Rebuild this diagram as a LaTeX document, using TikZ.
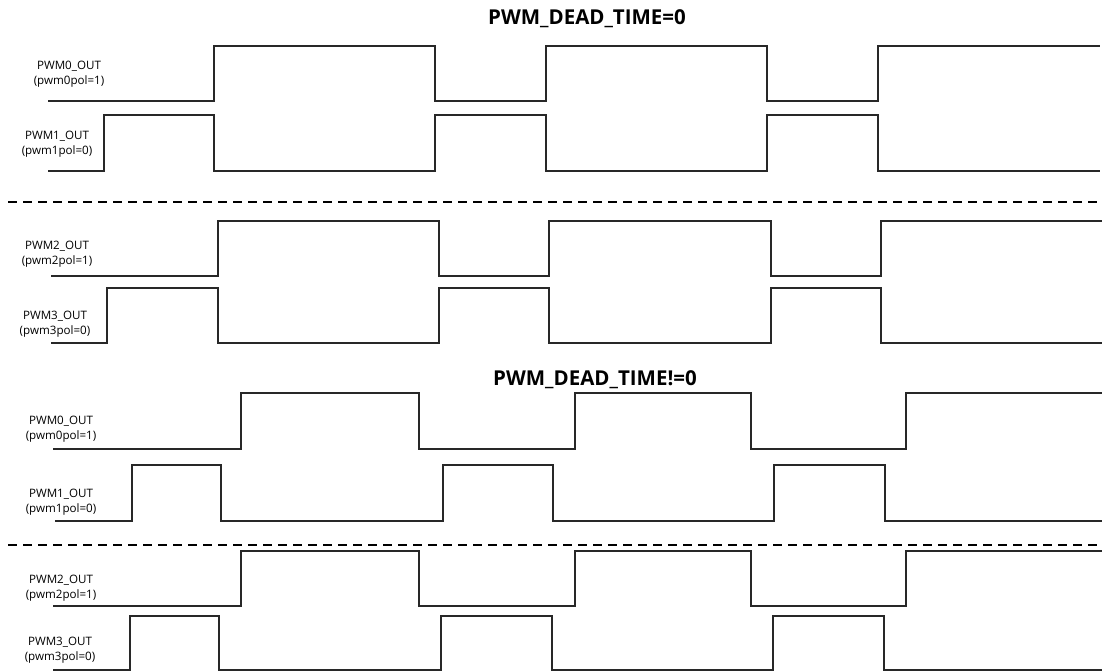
\documentclass[tikz,border=0pt]{standalone}
\usepackage{fontspec}
\setmainfont{Open Sans}
\usepackage{tikz}
\usepackage{xcolor}
\definecolor{wavegray}{RGB}{40, 40, 40}

\begin{document}
\begin{tikzpicture}[x=1pt, y=-1pt,
    wave/.style={draw=wavegray, line width=1.1pt},
    sep/.style={draw=black, line width=1.1pt, dash pattern=on 9pt off 6pt},
    sig/.style={align=center, font=\fontsize{11.6}{15}\selectfont, inner sep=0pt},
    title/.style={font=\fontsize{20.5}{24}\selectfont\bfseries, inner sep=0pt}]
    \useasboundingbox (0,0) rectangle (1102,671);

    % Titles
    \node[title] (t0) at (587,19) {PWM\_DEAD\_TIME=0};
    \node[title] (t1) at (595,380) {PWM\_DEAD\_TIME!=0};

    % Labels, no dead time
    \node[sig] (a0) at (69,74) {PWM0\_OUT\\(pwm0pol=1)};
    \node[sig] (a1) at (57,144) {PWM1\_OUT\\(pwm1pol=0)};
    \node[sig] (a2) at (57,254) {PWM2\_OUT\\(pwm2pol=1)};
    \node[sig] (a3) at (55,324) {PWM3\_OUT\\(pwm3pol=0)};

    % Labels, dead time
    \node[sig] (b0) at (61,429) {PWM0\_OUT\\(pwm0pol=1)};
    \node[sig] (b1) at (61,502) {PWM1\_OUT\\(pwm1pol=0)};
    \node[sig] (b2) at (61,588) {PWM2\_OUT\\(pwm2pol=1)};
    \node[sig] (b3) at (60,650) {PWM3\_OUT\\(pwm3pol=0)};

    % Waves, no dead time
    \draw[wave] (48,101) -| (214,46) -| (435,101) -| (546,46) -| (767,101) -| (878,46) -- (1100,46);
    \draw[wave] (48,171) -| (104,115) -| (214,171) -| (435,115) -| (546,171) -| (767,115) -| (878,171) -- (1100,171);
    \draw[sep] (8,202) -- (1102,202);
    \draw[wave] (51,276) -| (218,221) -| (439,276) -| (549,221) -| (771,276) -| (881,221) -- (1102,221);
    \draw[wave] (51,343) -| (107,288) -| (218,343) -| (439,288) -| (549,343) -| (771,288) -| (881,343) -- (1102,343);

    % Waves, dead time
    \draw[wave] (53,449) -| (241,393) -| (419,449) -| (575,393) -| (751,449) -| (906,393) -- (1102,393);
    \draw[wave] (55,521) -| (132,465) -| (221,521) -| (443,465) -| (553,521) -| (774,465) -| (885,521) -- (1102,521);
    \draw[sep] (8,545) -- (1102,545);
    \draw[wave] (53,606) -| (241,551) -| (419,606) -| (575,551) -| (751,606) -| (906,551) -- (1102,551);
    \draw[wave] (53,670) -| (130,616) -| (219,670) -| (441,616) -| (552,670) -| (773,616) -| (884,670) -- (1102,670);
\end{tikzpicture}
\end{document}
